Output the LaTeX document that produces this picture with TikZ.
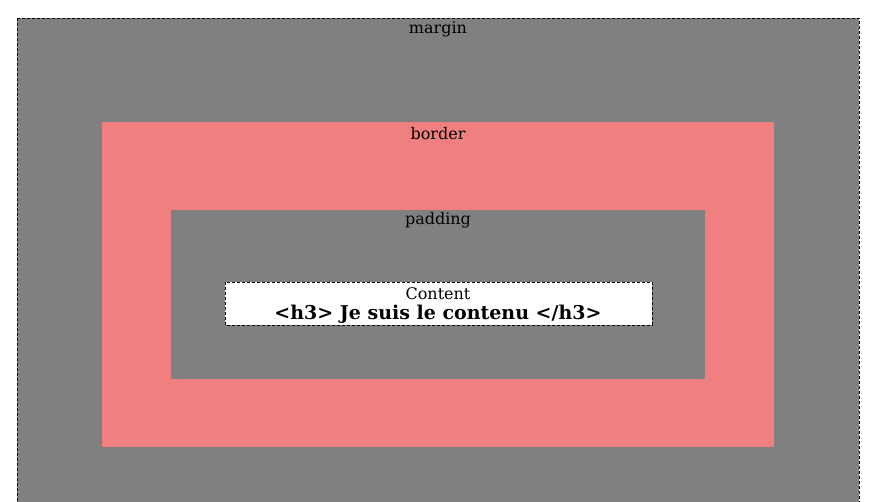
\documentclass[tikz,border=0pt]{standalone}
\usepackage{fontspec}
\setmainfont{DejaVu Serif}
\definecolor{boxgray}{RGB}{128,128,128}
\definecolor{coral}{RGB}{240,128,128}
\begin{document}
\begin{tikzpicture}[x=1pt,y=-1pt,
  lbl/.style={font=\fontsize{16}{18}\selectfont, inner sep=0pt, anchor=center},
  dashbox/.style={draw=black, dash pattern=on 3pt off 2pt, line width=0.9pt}]
\useasboundingbox (0,0) rectangle (877,502);
\fill[white] (0,0) rectangle (877,502);
% margin
\filldraw[fill=boxgray, dashbox] (17,18) rectangle (859,510);
\node[lbl] (margin) at (438,29.5) {margin};
% border
\fill[coral] (102,122) rectangle (774,447);
\node[lbl] (border) at (438,133.5) {border};
% padding
\fill[boxgray] (171,210) rectangle (705,379);
\node[lbl] (padding) at (438,220.5) {padding};
% content
\filldraw[fill=white, dashbox] (225,282) rectangle (652,325);
\node[lbl] (content) at (438,293.5) {Content};
\node[font=\fontsize{19}{22}\selectfont\bfseries, inner sep=0pt] (h3) at (438,314.5) {<h3> Je suis le contenu </h3>};
\end{tikzpicture}
\end{document}
